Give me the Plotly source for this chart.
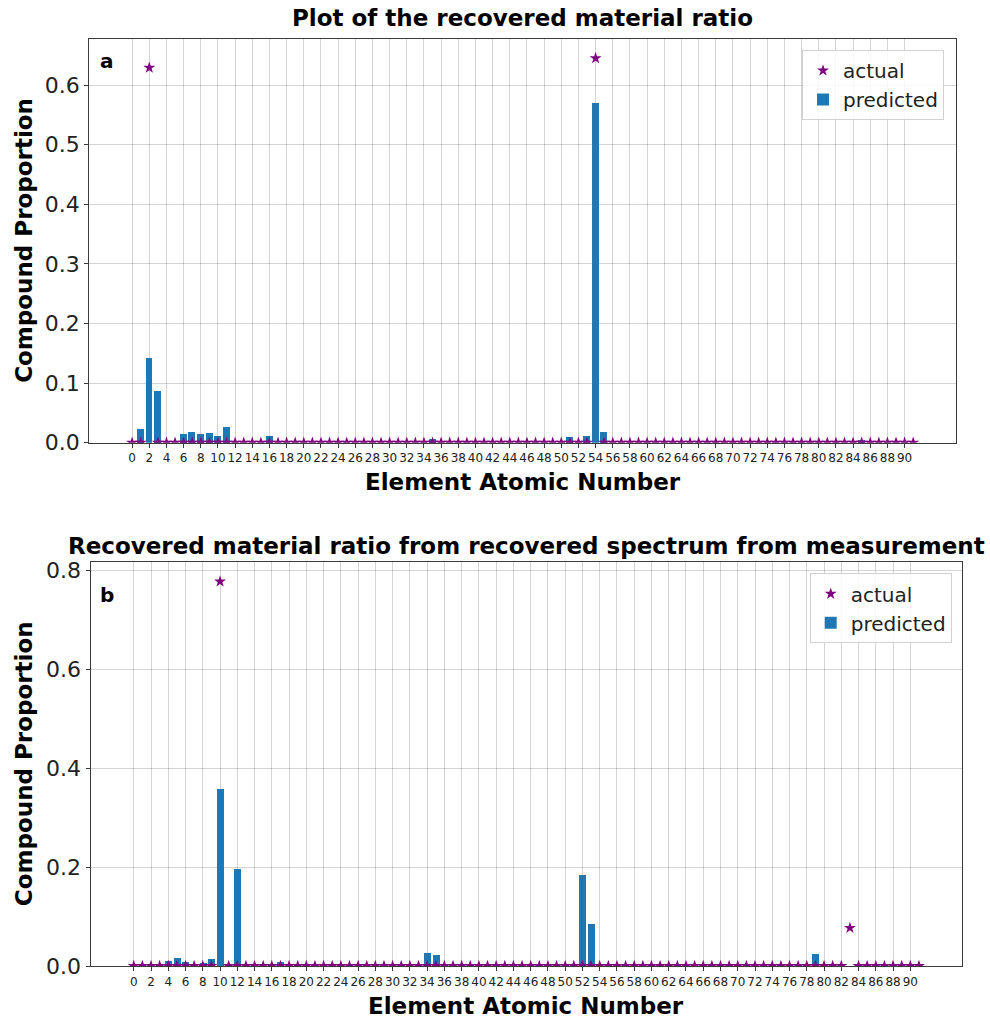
import plotly.graph_objects as go

# ---------------- data ----------------
atomic_numbers = list(range(92))
x_tick_values = list(range(0, 92, 2))

predicted_a = [
    0.000, 0.023, 0.142, 0.086, 0.000, 0.000, 0.014, 0.018, 0.014, 0.016,
    0.012, 0.027, 0.000, 0.000, 0.000, 0.000, 0.012, 0.000, 0.000, 0.000,
    0.000, 0.000, 0.000, 0.000, 0.000, 0.000, 0.000, 0.000, 0.000, 0.000,
    0.000, 0.000, 0.000, 0.000, 0.000, 0.006, 0.000, 0.000, 0.000, 0.000,
    0.000, 0.000, 0.000, 0.000, 0.000, 0.000, 0.000, 0.000, 0.000, 0.000,
    0.000, 0.009, 0.000, 0.011, 0.570, 0.018, 0.000, 0.000, 0.000, 0.000,
    0.000, 0.000, 0.000, 0.000, 0.000, 0.000, 0.000, 0.000, 0.000, 0.000,
    0.000, 0.000, 0.000, 0.000, 0.000, 0.000, 0.000, 0.000, 0.000, 0.000,
    0.000, 0.000, 0.000, 0.000, 0.000, 0.005, 0.000, 0.000, 0.000, 0.000,
    0.000, 0.000,
]
actual_a = [
    0.000, 0.000, 0.629, 0.000, 0.000, 0.000, 0.000, 0.000, 0.000, 0.000,
    0.000, 0.000, 0.000, 0.000, 0.000, 0.000, 0.000, 0.000, 0.000, 0.000,
    0.000, 0.000, 0.000, 0.000, 0.000, 0.000, 0.000, 0.000, 0.000, 0.000,
    0.000, 0.000, 0.000, 0.000, 0.000, 0.000, 0.000, 0.000, 0.000, 0.000,
    0.000, 0.000, 0.000, 0.000, 0.000, 0.000, 0.000, 0.000, 0.000, 0.000,
    0.000, 0.000, 0.000, 0.000, 0.645, 0.000, 0.000, 0.000, 0.000, 0.000,
    0.000, 0.000, 0.000, 0.000, 0.000, 0.000, 0.000, 0.000, 0.000, 0.000,
    0.000, 0.000, 0.000, 0.000, 0.000, 0.000, 0.000, 0.000, 0.000, 0.000,
    0.000, 0.000, 0.000, 0.000, 0.000, 0.000, 0.000, 0.000, 0.000, 0.000,
    0.000, 0.000,
]

predicted_b = [
    0.000, 0.000, 0.000, 0.004, 0.010, 0.016, 0.008, 0.003, 0.005, 0.013,
    0.357, 0.000, 0.195, 0.000, 0.000, 0.000, 0.000, 0.007, 0.000, 0.000,
    0.000, 0.000, 0.000, 0.000, 0.000, 0.000, 0.000, 0.000, 0.000, 0.000,
    0.000, 0.000, 0.000, 0.000, 0.026, 0.022, 0.000, 0.000, 0.000, 0.000,
    0.000, 0.000, 0.000, 0.000, 0.000, 0.000, 0.000, 0.000, 0.000, 0.000,
    0.002, 0.000, 0.183, 0.085, 0.000, 0.000, 0.000, 0.003, 0.000, 0.000,
    0.000, 0.000, 0.000, 0.003, 0.000, 0.000, 0.000, 0.000, 0.000, 0.000,
    0.000, 0.000, 0.000, 0.000, 0.000, 0.000, 0.000, 0.000, 0.000, 0.024,
    0.000, 0.000, 0.000, 0.000, 0.000, 0.000, 0.000, 0.000, 0.000, 0.000,
    0.000, 0.000,
]
actual_b = [
    0.000, 0.000, 0.000, 0.000, 0.000, 0.000, 0.000, 0.000, 0.000, 0.000,
    0.778, 0.000, 0.000, 0.000, 0.000, 0.000, 0.000, 0.000, 0.000, 0.000,
    0.000, 0.000, 0.000, 0.000, 0.000, 0.000, 0.000, 0.000, 0.000, 0.000,
    0.000, 0.000, 0.000, 0.000, 0.000, 0.000, 0.000, 0.000, 0.000, 0.000,
    0.000, 0.000, 0.000, 0.000, 0.000, 0.000, 0.000, 0.000, 0.000, 0.000,
    0.000, 0.000, 0.000, 0.000, 0.000, 0.000, 0.000, 0.000, 0.000, 0.000,
    0.000, 0.000, 0.000, 0.000, 0.000, 0.000, 0.000, 0.000, 0.000, 0.000,
    0.000, 0.000, 0.000, 0.000, 0.000, 0.000, 0.000, 0.000, 0.000, 0.000,
    0.000, 0.000, 0.000, 0.077, 0.000, 0.000, 0.000, 0.000, 0.000, 0.000,
    0.000, 0.000,
]

title_a = "Plot of the recovered material ratio"
title_b = "Recovered material ratio from recovered spectrum from measurement"
x_title = "Element Atomic Number"
y_title = "Compound Proportion"

# ---------------- layout helpers ----------------
W, H = 990, 1019
BAR_COLOR = "#1f77b4"
STAR_COLOR = "purple"
FONT = "DejaVu Sans"


def px_x(p):
    return p / W


def px_y(p):
    return 1 - p / H


# plot boxes in pixels (left, right, top, bottom)
box_a = (89.3, 956.0, 39.0, 442.7)
box_b = (90.7, 962.0, 562.3, 966.0)

fig = go.Figure()

for pred, act, xa, ya, leg in [
    (predicted_a, actual_a, "x", "y", "legend"),
    (predicted_b, actual_b, "x2", "y2", "legend2"),
]:
    fig.add_trace(go.Bar(
        x=atomic_numbers, y=pred, width=0.8, name="predicted",
        marker=dict(color=BAR_COLOR, line=dict(width=0)),
        xaxis=xa, yaxis=ya, legend=leg, legendrank=2,
    ))
    fig.add_trace(go.Scatter(
        x=atomic_numbers, y=act, mode="markers", name="actual",
        marker=dict(symbol="star", size=9, color=STAR_COLOR, line=dict(width=0)),
        xaxis=xa, yaxis=ya, legend=leg, legendrank=1, cliponaxis=True,
    ))

n = len(atomic_numbers)
x_lo = -0.4 - 0.05 * (n - 1 + 0.8)
x_hi = (n - 1) + 0.4 + 0.05 * (n - 1 + 0.8)

axis_common = dict(
    showline=True, linecolor="#3a3a3a", linewidth=1.4, mirror=True,
    ticks="outside", ticklen=4, tickwidth=1, tickcolor="#3a3a3a",
    showgrid=True, gridcolor="rgba(0,0,0,0.17)", gridwidth=1.2,
    zeroline=False, automargin=False,
)

xaxis_common = dict(
    axis_common, range=[x_lo, x_hi], tickmode="array",
    tickvals=x_tick_values, ticktext=[str(v) for v in x_tick_values],
    tickfont=dict(family=FONT, size=12, color="#222"), tickangle=0,
)

fig.update_layout(
    width=W, height=H,
    margin=dict(l=0, r=0, t=0, b=0, pad=0, autoexpand=False),
    paper_bgcolor="white", plot_bgcolor="white",
    bargap=0, showlegend=True,
    xaxis=dict(xaxis_common, domain=[px_x(box_a[0]), px_x(box_a[1])], anchor="y"),
    yaxis=dict(axis_common, domain=[px_y(box_a[3]), px_y(box_a[2])], anchor="x",
               range=[0, max(actual_a + predicted_a) * 1.05],
               tickmode="array", tickvals=[0, 0.1, 0.2, 0.3, 0.4, 0.5, 0.6],
               ticktext=["0.0", "0.1", "0.2", "0.3", "0.4", "0.5", "0.6"],
               tickfont=dict(family=FONT, size=22, color="#222")),
    xaxis2=dict(xaxis_common, domain=[px_x(box_b[0]), px_x(box_b[1])], anchor="y2"),
    yaxis2=dict(axis_common, domain=[px_y(box_b[3]), px_y(box_b[2])], anchor="x2",
                range=[0, max(actual_b + predicted_b) * 1.05],
                tickmode="array", tickvals=[0, 0.2, 0.4, 0.6, 0.8],
                ticktext=["0.0", "0.2", "0.4", "0.6", "0.8"],
                tickfont=dict(family=FONT, size=22, color="#222")),
    legend=dict(x=px_x(944), y=px_y(50), xanchor="right", yanchor="top",
                bgcolor="rgba(255,255,255,0.85)", bordercolor="#d0d0d0", borderwidth=1,
                font=dict(family=FONT, size=20, color="#222"), tracegroupgap=0),
    legend2=dict(x=px_x(951.7), y=px_y(573.3), xanchor="right", yanchor="top",
                 bgcolor="rgba(255,255,255,0.85)", bordercolor="#d0d0d0", borderwidth=1,
                 font=dict(family=FONT, size=20, color="#222"), tracegroupgap=0),
)

annots = [
    (title_a, (box_a[0] + box_a[1]) / 2, 18, 23, 0),
    (title_b, (box_b[0] + box_b[1]) / 2, 546, 23, 0),
    (x_title, (box_a[0] + box_a[1]) / 2, 482, 23, 0),
    (x_title, (box_b[0] + box_b[1]) / 2, 1006, 23, 0),
    (y_title, 24, (box_a[2] + box_a[3]) / 2, 23, -90),
    (y_title, 24, (box_b[2] + box_b[3]) / 2, 23, -90),
    ("a", 107, 61, 20, 0),
    ("b", 107, 595, 20, 0),
]
for text, xp, yp, size, ang in annots:
    fig.add_annotation(
        text=f"<b>{text}</b>", x=px_x(xp), y=px_y(yp), xref="paper", yref="paper",
        xanchor="center", yanchor="middle", showarrow=False, textangle=ang,
        font=dict(family=FONT, size=size, color="black"),
    )

fig.write_html(
    "out.html",
    config={"displayModeBar": False},
    post_script=(
        "document.body.style.margin='0';document.body.style.padding='0';"
        "document.documentElement.style.overflow='hidden';"
        "document.body.style.overflow='hidden';"
        "var gd=document.getElementById('{plot_id}');"
        "gd.style.position='fixed';gd.style.left='0px';gd.style.top='0px';"
    ),
)
